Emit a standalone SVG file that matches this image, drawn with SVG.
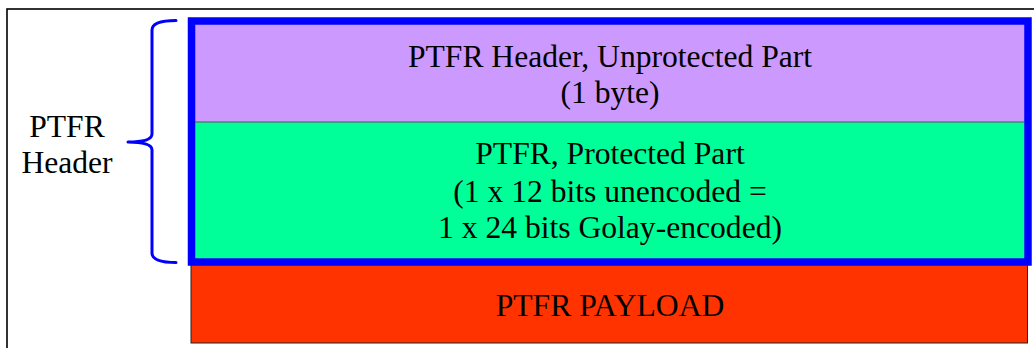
<svg xmlns="http://www.w3.org/2000/svg" width="1034" height="348" viewBox="0 0 1034 348" font-family="'Liberation Serif', 'Times New Roman', Tinos, 'DejaVu Serif', serif">
<style>
text{font-family:'Liberation Serif','Times New Roman',Tinos,'DejaVu Serif',serif;font-size:31.6px;fill:#000;text-anchor:middle}
.brace{fill:none;stroke:#0000FF;stroke-width:3;stroke-linecap:round;stroke-linejoin:round}
</style>
<rect x="0" y="0" width="1034" height="348" fill="#fff"/>
<rect id="frame" x="7" y="9" width="1040" height="350" fill="none" stroke="#000" stroke-width="1.6"/>
<g id="payload">
<rect x="191" y="263" width="836.5" height="80" fill="#FF3300" stroke="#222" stroke-width="1"/>
<text x="610" y="316">PTFR PAYLOAD</text>
</g>
<g id="unprotected">
<rect x="191.5" y="21" width="836.5" height="101" fill="#CC99FF"/>
<text x="610" y="66.5">PTFR Header, Unprotected Part</text>
<text x="610" y="103.3">(1 byte)</text>
</g>
<g id="protected">
<rect x="191.5" y="122" width="836.5" height="140" fill="#00FF99"/>
<line x1="195" y1="122" x2="1024" y2="122" stroke="#555" stroke-width="1"/>
<text x="610" y="164.3">PTFR, Protected Part</text>
<text x="610" y="201.5">(1 x 12 bits unencoded =</text>
<text x="610" y="238.3">1 x 24 bits Golay-encoded)</text>
</g>
<g id="header-box">
<rect x="191.5" y="21" width="836.5" height="241" fill="none" stroke="#0000FF" stroke-width="7.5"/>
</g>
<g id="header-label">
<path class="brace" d="M176,20.5 Q152,20.5 152,30 L152,134 Q152,142 128,142 Q152,142 152,150 L152,253 Q152,262.5 176,262.5"/>
<text x="67" y="136.5">PTFR</text>
<text x="67" y="172.5">Header</text>
</g>
</svg>
